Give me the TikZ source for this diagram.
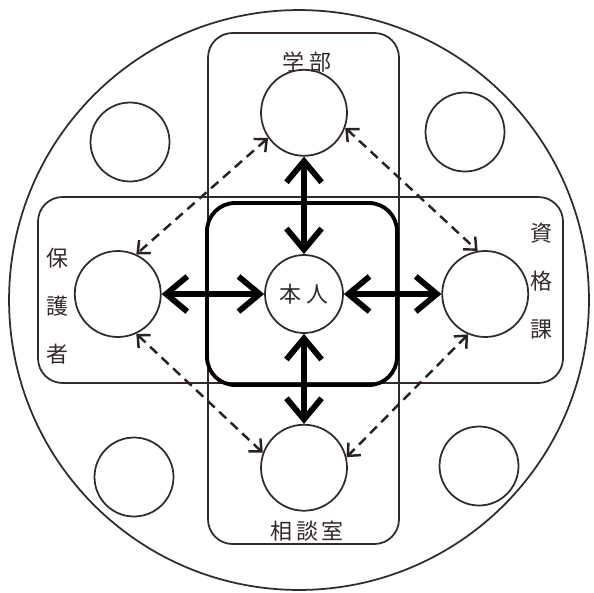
\documentclass[tikz,border=0pt]{standalone}
\usepackage{fontspec}
\newfontfamily\jp{Noto Sans CJK JP}
\usetikzlibrary{positioning,arrows.meta}
\definecolor{ink}{RGB}{50,42,42}

\begin{document}
\begin{tikzpicture}[x=0.02cm,y=-0.02cm,every node/.style={font=\jp\fontsize{12.5}{27.5}\selectfont,text=ink},circ/.style={draw=ink,circle,line width=1pt,inner sep=0pt,minimum size=1.72cm},box/.style={draw=ink,line width=1pt,rounded corners=14pt},line/.style={{Straight Barb[length=12pt,width=20pt]}-{Straight Barb[length=12pt,width=20pt]},line width=3.3pt},dline/.style={{Straight Barb[length=5.5pt,width=10pt]}-{Straight Barb[length=5.5pt,width=10pt]},line width=1.4pt,dash pattern=on 5.5pt off 3.5pt,draw=ink!80!black}]
\useasboundingbox (0,0) rectangle (594,592);
\draw[ink,line width=1pt] (299,300) circle[radius=5.8cm];
\draw[box] (208,33) rectangle (399,544);
\draw[box] (38,197) rectangle (563,383);
\draw[box,draw=black,line width=2.2pt,rounded corners=16pt] (207,203) rectangle (397,385);
\node[circ,minimum size=1.56cm] (c) at (304,294) {本\hspace{3pt}人};
\node[circ,above=1.95cm of c] (t) {};
\node[circ,below=1.8cm of c] (b) {};
\node[circ,left=2.05cm of c] (l) {};
\node[circ,right=1.95cm of c] (r) {};
\node[circ,minimum size=1.58cm] (tl) at (130,142) {};
\node[circ,minimum size=1.58cm] (tr) at (465,132) {};
\node[circ,minimum size=1.58cm] (bl) at (134,477) {};
\node[circ,minimum size=1.58cm] (br) at (479,466) {};
\node (tt) at (307,62) {学\hspace{3pt}部};
\node (bt) at (307,531) {相\hspace{2pt}談\hspace{2pt}室};
\node[align=center] (lt) at (57,306) {保\\護\\者};
\node[align=center] (rt) at (541,281) {資\\格\\課};
\draw[line] (t)--(c);\draw[line] (b)--(c);\draw[line] (l)--(c);\draw[line] (r)--(c);
\draw[dline] (t.215)--(l.65);\draw[dline] (t.340)--(r.100);\draw[dline] (l.295)--(b.160);\draw[dline] (r.247)--(b.14);
\end{tikzpicture}
\end{document}
